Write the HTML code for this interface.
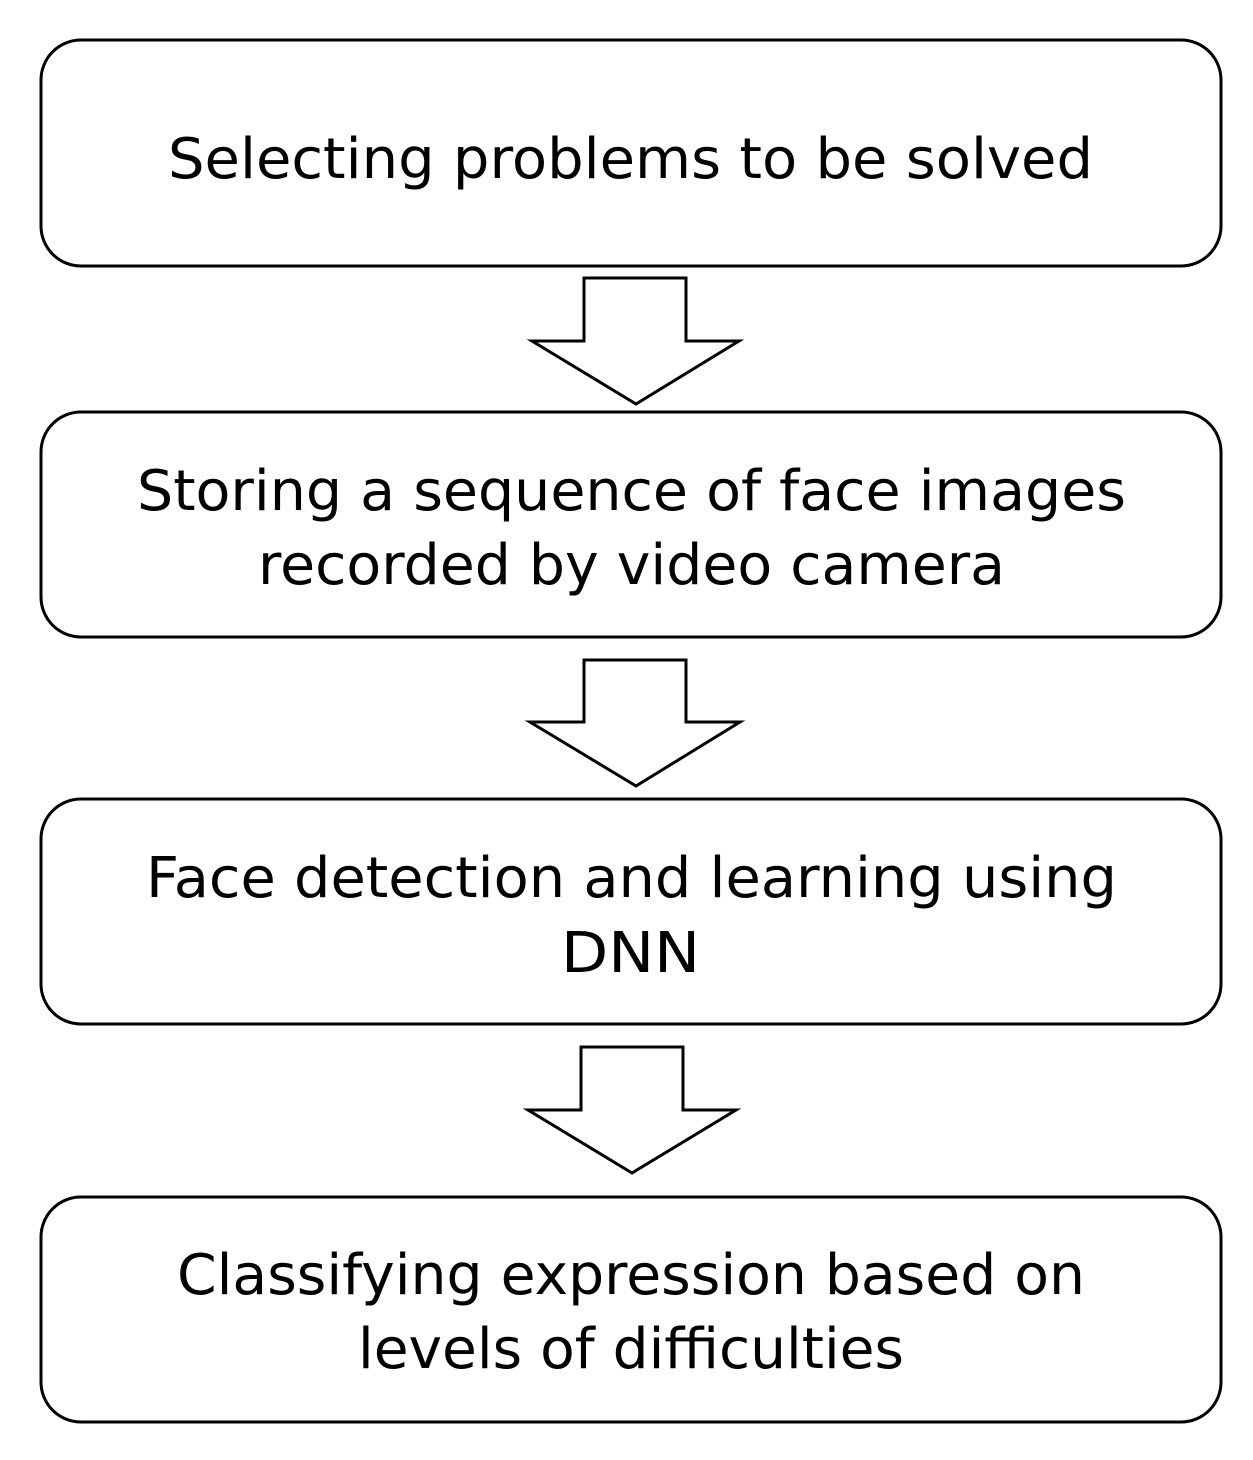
<!DOCTYPE html>
<html><head><style>html,body{margin:0;padding:0;background:#fff}</style></head>
<body>
<svg width="1253" height="1455" viewBox="0 0 1253 1455" xmlns="http://www.w3.org/2000/svg" font-family="'DejaVu Sans','Liberation Sans',sans-serif" font-size="56" fill="#000">
<g fill="#fff" stroke="#000" stroke-width="3">
<rect x="41" y="40" width="1180" height="226" rx="40"/>
<rect x="41" y="412" width="1180" height="225" rx="40"/>
<rect x="41" y="799" width="1180" height="225" rx="40"/>
<rect x="41" y="1197" width="1180" height="225" rx="40"/>
<polygon points="584,278 686,278 686,341 739,341 636,404 532,341 584,341"/>
<polygon points="584,660 686,660 686,722 740,722 636,786 530,722 584,722"/>
<polygon points="581,1047 683,1047 683,1110 736,1110 632,1173 528,1110 581,1110"/>
</g>
<g stroke="none">
<text x="168" y="178" textLength="925" lengthAdjust="spacingAndGlyphs">Selecting problems to be solved</text>
<text x="137" y="510" textLength="989" lengthAdjust="spacingAndGlyphs">Storing a sequence of face images</text>
<text x="258" y="584" textLength="747" lengthAdjust="spacingAndGlyphs">recorded by video camera</text>
<text x="146" y="897" textLength="971" lengthAdjust="spacingAndGlyphs">Face detection and learning using</text>
<text x="561" y="972" textLength="139" lengthAdjust="spacingAndGlyphs">DNN</text>
<text x="177" y="1294" textLength="908" lengthAdjust="spacingAndGlyphs">Classifying expression based on</text>
<text x="358" y="1368" textLength="546" lengthAdjust="spacingAndGlyphs">levels of difficulties</text>
</g>
</svg>
</body></html>
